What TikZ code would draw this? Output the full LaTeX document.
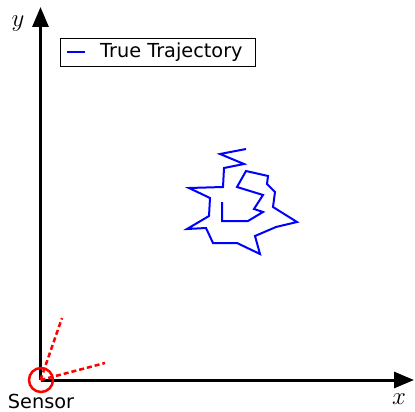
\documentclass[tikz,border=0pt]{standalone}
\usepackage{fontspec}
\setsansfont{DejaVu Sans}
\usetikzlibrary{arrows.meta}
\tikzset{
  axis/.style={line width=3pt, -{Triangle[length=20pt,width=16pt]}},
  sensorray/.style={red, line width=2.5pt, dash pattern=on 5pt off 3pt},
  traj/.style={blue, line width=2pt, line join=miter},
  lbl/.style={font=\sffamily\fontsize{19.3}{21}\selectfont, inner sep=0pt},
  axlbl/.style={font=\fontsize{30}{31}\selectfont, inner sep=0pt}
}
\begin{document}
\begin{tikzpicture}[x=1pt,y=-1pt]
\useasboundingbox (0,0) rectangle (415,412);
\coordinate (O) at (40.5,380);
\coordinate (ytip) at (40.5,7);
\coordinate (xtip) at (414,380);
\draw[axis] (O) -- (ytip);
\draw[axis] (O) -- (xtip);
\node[axlbl] (ylab) at (18,24) {$y$};
\node[axlbl] (xlab) at (399,399) {$x$};
% sensor
\coordinate (r1) at (62,318);
\coordinate (r2) at (105,363);
\draw[sensorray] (O) -- (r1);
\draw[sensorray] (O) -- (r2);
\node[draw=red, circle, line width=2.5pt, minimum size=24pt, inner sep=0pt] (sensor) at (41,380) {};
\node[lbl, anchor=base] (sensorlbl) at (41,408) {Sensor};
% legend
\node[draw=black, line width=0.8pt, minimum width=195pt, minimum height=28pt, inner sep=0pt, anchor=north west] (legend) at (59.5,38.5) {};
\coordinate (l1) at (67,52);
\coordinate (l2) at (85,52);
\draw[traj] (l1) -- (l2);
\node[lbl, anchor=west] (legtext) at (100,52) {True Trajectory};
% trajectory
\draw[traj] (246,149) -- (220,154) -- (244,164) -- (224,168) -- (223,187) -- (189,188)
 -- (210,198) -- (209,216) -- (187,229) -- (206,228) -- (213,243) -- (237,243)
 -- (260,254) -- (255,236) -- (276,227) -- (297,222) -- (273,207) -- (275,192)
 -- (267,184) -- (268,176) -- (246,171) -- (237,187) -- (263,195) -- (254,209)
 -- (263,212) -- (248,221) -- (222,221) -- (222,202);
\end{tikzpicture}
\end{document}
